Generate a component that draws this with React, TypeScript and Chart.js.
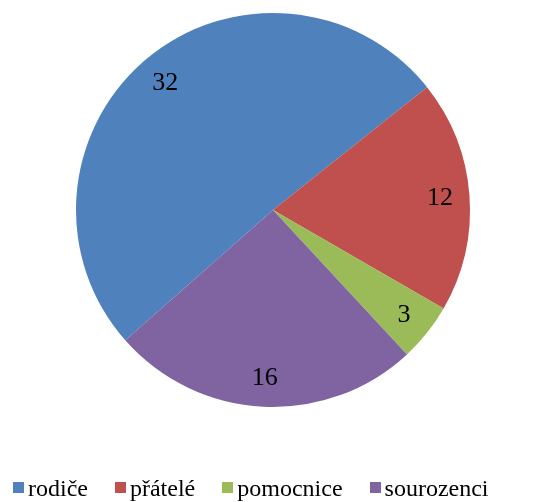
import React, { useEffect, useRef, useState } from "react";
import { Chart, registerables } from "chart.js";

Chart.register(...registerables);

const categories: string[] = ["rodiče", "přátelé", "pomocnice", "sourozenci"];
const values: number[] = [32, 12, 3, 16];
const colors: string[] = ["#4F81BD", "#C0504D", "#9BBB59", "#8064A2"];

const SERIF = "'Liberation Serif'";

type LabelPos = { x: number; y: number; text: string };

export default function App() {
  const canvasRef = useRef<HTMLCanvasElement | null>(null);
  const [labels, setLabels] = useState<LabelPos[]>([]);

  useEffect(() => {
    if (!canvasRef.current) return;
    const chart = new Chart(canvasRef.current, {
      type: "pie",
      data: {
        labels: categories,
        datasets: [
          {
            data: values,
            backgroundColor: colors,
            borderWidth: 0,
          },
        ],
      },
      options: {
        responsive: false,
        animation: false,
        rotation: 228.57,
        layout: { padding: { top: 13, bottom: 95, left: 0, right: 0 } },
        plugins: {
          legend: { display: false },
          tooltip: { enabled: false },
        },
      },
    });
    const meta = chart.getDatasetMeta(0);
    const data = chart.data.datasets[0].data as number[];
    const pos: LabelPos[] = meta.data.map((arc: any, i: number) => {
      const p = arc.getProps(["x", "y", "startAngle", "endAngle", "outerRadius"], true);
      const mid = (p.startAngle + p.endAngle) / 2;
      const r = p.outerRadius * 0.85;
      return { x: p.x + Math.cos(mid) * r, y: p.y + Math.sin(mid) * r, text: String(data[i]) };
    });
    setLabels(pos);
    return () => chart.destroy();
  }, []);

  return (
    <div style={{ position: "absolute", left: 0, top: 0, width: 546, height: 502, background: "#ffffff", overflow: "hidden" }}>
      <canvas ref={canvasRef} width={546} height={502} style={{ display: "block" }} />
      {labels.map((l, i) => (
        <div
          key={"lbl" + i}
          style={{
            position: "absolute",
            left: l.x,
            top: l.y,
            transform: "translate(-50%, -50%)",
            fontFamily: SERIF,
            fontSize: 26,
            lineHeight: "26px",
            color: "#000000",
            whiteSpace: "nowrap",
          }}
        >
          {l.text}
        </div>
      ))}
      <div
        style={{
          position: "absolute",
          left: 13,
          top: 476,
          fontFamily: SERIF,
          fontSize: 24,
          lineHeight: "24px",
          color: "#000000",
          whiteSpace: "nowrap",
        }}
      >
        {categories.map((c, i) => (
          <span key={c} style={{ display: "inline-block", marginRight: 27 }}>
            <span
              style={{
                display: "inline-block",
                width: 11,
                height: 11,
                background: colors[i],
                marginRight: 4,
                verticalAlign: "3px",
              }}
            />
            {c}
          </span>
        ))}
      </div>
    </div>
  );
}
